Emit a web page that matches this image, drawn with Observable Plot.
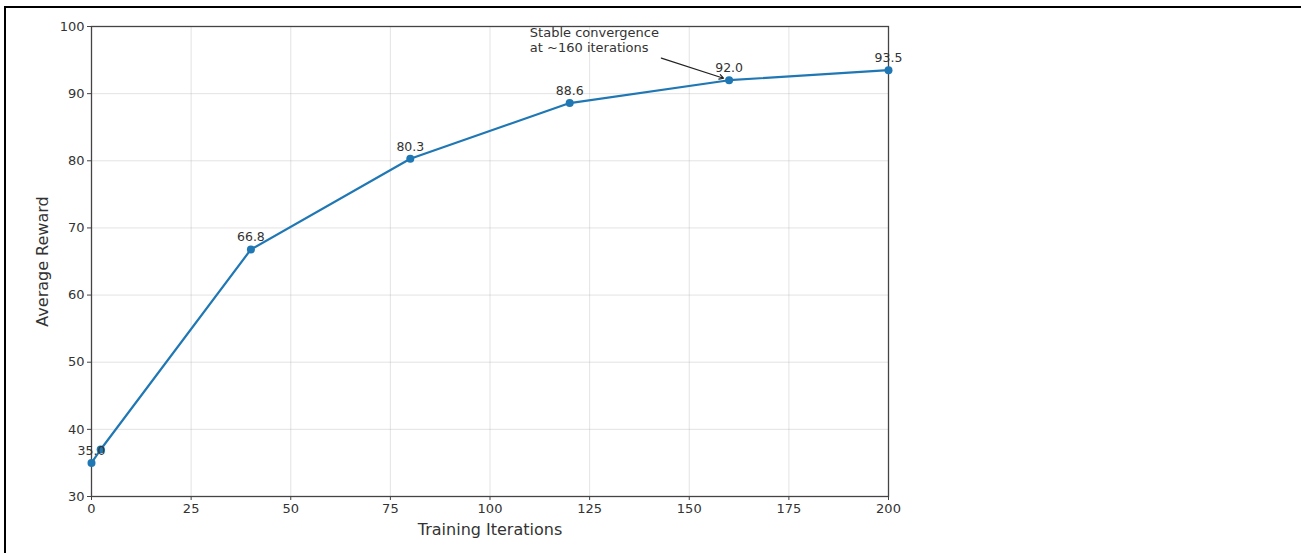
<!DOCTYPE html>
<html>
<head>
<meta charset="utf-8">
<script src="https://cdn.jsdelivr.net/npm/d3@7"></script>
<script src="https://cdn.jsdelivr.net/npm/@observablehq/plot@0.6"></script>
<style>
  html, body { margin: 0; padding: 0; background: #fff; }
  #wrap { position: relative; width: 1301px; height: 553px; overflow: hidden; }
  #border { position: absolute; left: 4px; top: 6px; width: 1400px; height: 700px; border-top: 2px solid #000; border-left: 2px solid #000; pointer-events: none; }
  svg { font-family: "DejaVu Sans", sans-serif; }
</style>
</head>
<body>
<div id="wrap"><div id="border"></div></div>
<script>
const iterations = [0, 2.3, 40, 80, 120, 160, 200];
const rewards = [35.0, 37.0, 66.8, 80.3, 88.6, 92.0, 93.5];
const labelIdx = [0, 2, 3, 4, 5, 6];
const xTicks = [0, 25, 50, 75, 100, 125, 150, 175, 200];
const yTicks = [30, 40, 50, 60, 70, 80, 90, 100];
const annotationText = "Stable convergence\nat ~160 iterations";
const annotationPos = {x: 110.0, y: 98.1};
const arrowFrom = {x: 143.0, y: 95.3};
const arrowTo = {x: 158.6, y: 92.3};

const data = iterations.map((x, i) => ({x, y: rewards[i]}));
const labelData = labelIdx.map(i => ({x: iterations[i], y: rewards[i], t: rewards[i].toFixed(1)}));
const blue = "#1f77b4";

const chart = Plot.plot({
  width: 1301,
  height: 553,
  marginLeft: 91,
  marginRight: 413,
  marginTop: 26,
  marginBottom: 57,
  style: {fontFamily: "DejaVu Sans, sans-serif", fontSize: "12px", color: "#333", background: "transparent"},
  x: {domain: [0, 200], ticks: xTicks, label: null},
  y: {domain: [30, 100], ticks: yTicks, label: null},
  marks: [
    Plot.gridX(xTicks, {stroke: "#b0b0b0", strokeOpacity: 0.45, strokeWidth: 0.8}),
    Plot.gridY(yTicks, {stroke: "#b0b0b0", strokeOpacity: 0.45, strokeWidth: 0.8}),
    Plot.axisX(xTicks, {tickSize: 4, tickPadding: 3, fontSize: 13, stroke: "#444", fill: "#333"}),
    Plot.axisY(yTicks, {tickSize: 4, tickPadding: 3, fontSize: 13, stroke: "#444", fill: "#333"}),
    Plot.frame({stroke: "#444", strokeWidth: 1.3}),
    Plot.line(data, {x: "x", y: "y", stroke: blue, strokeWidth: 2.2}),
    Plot.dot(data, {x: "x", y: "y", fill: blue, r: 4}),
    Plot.text(labelData, {x: "x", y: "y", text: "t", dy: -12, fontSize: 12.5, fill: "#333"}),
    Plot.arrow([{x1: arrowFrom.x, y1: arrowFrom.y, x2: arrowTo.x, y2: arrowTo.y}], {x1: "x1", y1: "y1", x2: "x2", y2: "y2", stroke: "#222", strokeWidth: 1.2, headLength: 6}),
    Plot.text([annotationPos], {x: "x", y: "y", text: () => annotationText, textAnchor: "start", fontSize: 13, lineHeight: 1.15, fill: "#333"}),
    Plot.text(["Training Iterations"], {frameAnchor: "bottom", dy: 38, fontSize: 16, fill: "#333"}),
    Plot.text(["Average Reward"], {frameAnchor: "left", textAnchor: "middle", dx: -49, rotate: -90, fontSize: 16, fill: "#333"})
  ]
});
document.getElementById("wrap").prepend(chart);
</script>
</body>
</html>
